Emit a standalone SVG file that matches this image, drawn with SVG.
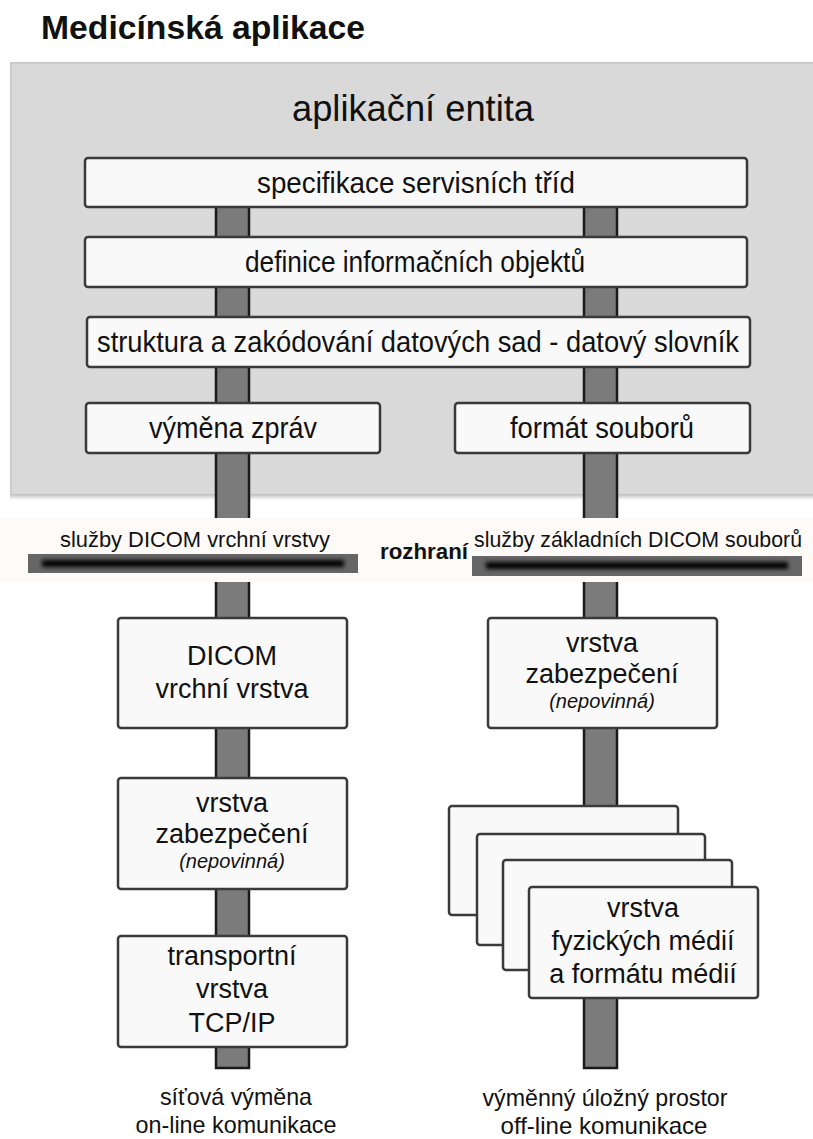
<svg xmlns="http://www.w3.org/2000/svg" width="813" height="1139" viewBox="0 0 813 1139">
  <style>
    text { font-family: "Liberation Sans", Arial, sans-serif; fill: #111; }
    .box { fill: #f9f9fa; stroke: #3a3a3a; stroke-width: 2.5; }
    .pillar { fill: #7b7b7b; stroke: #1a1a1a; stroke-width: 2.5; }
    .t30 { font-size: 30px; text-anchor: middle; }
    .t27 { font-size: 27px; text-anchor: middle; }
    .t22 { font-size: 22px; }
    .it { font-size: 20px; font-style: italic; text-anchor: middle; }
    .foot { font-size: 24px; text-anchor: middle; }
  </style>
  <defs>
    <linearGradient id="shade" x1="0" y1="0" x2="0" y2="1">
      <stop offset="0" stop-color="#bdbdbd"/>
      <stop offset="1" stop-color="#ffffff"/>
    </linearGradient>
    <filter id="soft" x="-10%" y="-200%" width="120%" height="500%">
      <feGaussianBlur stdDeviation="2"/>
    </filter>
  </defs>

  <rect x="0" y="0" width="813" height="1139" fill="#ffffff"/>

  <!-- title -->
  <text x="41" y="39" font-size="33" font-weight="bold" textLength="324" lengthAdjust="spacingAndGlyphs">Medicínská aplikace</text>

  <!-- application entity panel -->
  <g id="entity-panel">
    <rect x="10" y="62" width="803" height="433" fill="#d9d9d9"/>
    <rect x="10" y="62" width="803" height="1.5" fill="#c4c4c4"/>
    <rect x="10" y="62" width="1.5" height="433" fill="#c8c8c8"/>
    <rect x="10" y="494" width="803" height="6" fill="url(#shade)"/>
    <text x="413" y="121" font-size="36" text-anchor="middle" textLength="242" lengthAdjust="spacingAndGlyphs">aplikační entita</text>
  </g>

  <!-- vertical service columns -->
  <g id="connectors">
    <rect class="pillar" x="216" y="185" width="33" height="883"/>
    <rect class="pillar" x="584" y="185" width="33" height="883"/>
  </g>

  <g id="n-specifikace">
    <rect class="box" x="85" y="158" width="662" height="49" rx="3"/>
    <text class="t30" x="416" y="193" textLength="318" lengthAdjust="spacingAndGlyphs">specifikace servisních tříd</text>
  </g>
  <g id="n-definice">
    <rect class="box" x="85" y="237" width="662" height="50" rx="3"/>
    <text class="t30" x="415" y="272" textLength="340" lengthAdjust="spacingAndGlyphs">definice informačních objektů</text>
  </g>
  <g id="n-struktura">
    <rect class="box" x="87" y="317" width="663" height="50" rx="3"/>
    <text class="t30" x="418" y="352" textLength="642" lengthAdjust="spacingAndGlyphs">struktura a zakódování datových sad - datový slovník</text>
  </g>
  <g id="n-vymena">
    <rect class="box" x="86" y="403" width="294" height="50" rx="3"/>
    <text class="t30" x="233" y="438" textLength="168" lengthAdjust="spacingAndGlyphs">výměna zpráv</text>
  </g>
  <g id="n-format">
    <rect class="box" x="455" y="403" width="295" height="50" rx="3"/>
    <text class="t30" x="602" y="438" textLength="184" lengthAdjust="spacingAndGlyphs">formát souborů</text>
  </g>

  <!-- interface band -->
  <g id="interface">
    <rect x="0" y="518" width="813" height="64" fill="#fdfaf7"/>
    <text class="t22" x="60" y="547" textLength="270" lengthAdjust="spacingAndGlyphs">služby DICOM vrchní vrstvy</text>
    <rect x="28" y="554" width="330" height="19" fill="#666"/>
    <rect x="42" y="560" width="302" height="7" fill="#000" filter="url(#soft)"/>
    <text x="380" y="559" font-size="22" font-weight="bold" textLength="88" lengthAdjust="spacingAndGlyphs">rozhraní</text>
    <text class="t22" x="474" y="547" textLength="328" lengthAdjust="spacingAndGlyphs">služby základních DICOM souborů</text>
    <rect x="472" y="556" width="330" height="20" fill="#666"/>
    <rect x="486" y="562" width="302" height="7" fill="#000" filter="url(#soft)"/>
  </g>

  <!-- left stack: network exchange -->
  <g id="n-dicom-upper">
    <rect class="box" x="118" y="618" width="229" height="110" rx="3"/>
    <text class="t27" x="232" y="665">DICOM</text>
    <text class="t27" x="232" y="698">vrchní vrstva</text>
  </g>
  <g id="n-security-left">
    <rect class="box" x="118" y="778" width="229" height="111" rx="3"/>
    <text class="t27" x="232" y="812">vrstva</text>
    <text class="t27" x="232" y="843">zabezpečení</text>
    <text class="it" x="232" y="868">(nepovinná)</text>
  </g>
  <g id="n-transport">
    <rect class="box" x="118" y="936" width="229" height="111" rx="3"/>
    <text class="t27" x="232" y="965">transportní</text>
    <text class="t27" x="232" y="998">vrstva</text>
    <text class="t27" x="232" y="1032">TCP/IP</text>
  </g>

  <!-- right stack: removable storage -->
  <g id="n-security-right">
    <rect class="box" x="488" y="618" width="229" height="110" rx="3"/>
    <text class="t27" x="602" y="652">vrstva</text>
    <text class="t27" x="602" y="683">zabezpečení</text>
    <text class="it" x="602" y="708">(nepovinná)</text>
  </g>
  <g id="n-media">
    <rect class="box" x="449" y="806" width="229" height="109" rx="3"/>
    <rect class="box" x="477" y="834" width="228" height="111" rx="3"/>
    <rect class="box" x="503" y="860" width="229" height="110" rx="3"/>
    <rect class="box" x="529" y="887" width="229" height="111" rx="3"/>
    <text class="t27" x="643" y="917">vrstva</text>
    <text class="t27" x="643" y="950">fyzických médií</text>
    <text class="t27" x="643" y="983">a formátu médií</text>
  </g>

  <!-- exchange type captions -->
  <g id="captions">
    <text class="foot" x="236" y="1105" textLength="152" lengthAdjust="spacingAndGlyphs">síťová výměna</text>
    <text class="foot" x="236" y="1133" textLength="201" lengthAdjust="spacingAndGlyphs">on-line komunikace</text>
    <text class="foot" x="605" y="1106" textLength="245" lengthAdjust="spacingAndGlyphs">výměnný úložný prostor</text>
    <text class="foot" x="604" y="1134" textLength="207" lengthAdjust="spacingAndGlyphs">off-line komunikace</text>
  </g>
</svg>
